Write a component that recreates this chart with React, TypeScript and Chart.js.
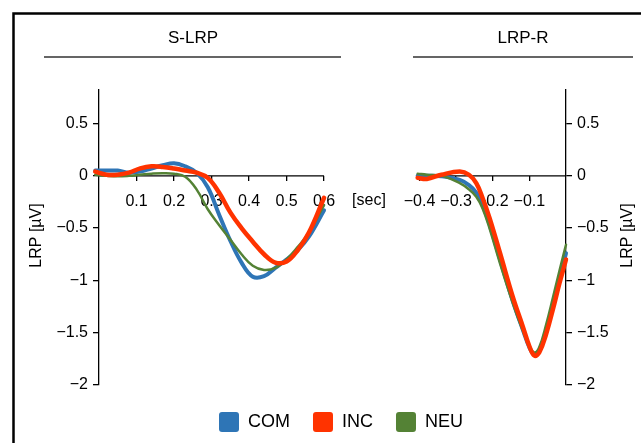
import React, { useEffect, useRef } from 'react';
import { Chart, registerables } from 'chart.js';

Chart.register(...registerables);

const FONT = '"Liberation Sans", Arial, Helvetica, sans-serif';

// ---- series meta ----
const seriesNames = ['COM', 'INC', 'NEU'];
const seriesColors = ['#2E75B6', '#FF3300', '#548235'];
const seriesWidths = [4, 4.5, 2.5];
const seriesOrder = [2, 0, 1];

// ---- text ----
const panelTitles = ['S-LRP', 'LRP-R'];
const yAxisTitle = 'LRP [\u00b5V]';
const xUnitLabel = '[sec]';

// ---- ticks ----
const yTicks = [-2, -1.5, -1, -0.5, 0, 0.5];
const leftXTicks = [0.1, 0.2, 0.3, 0.4, 0.5, 0.6];
const rightXTicks = [-0.4, -0.3, -0.2, -0.1];

// ---- left panel (stimulus-locked) ----
const leftTime = [-0.01, 0.02, 0.05, 0.08, 0.11, 0.14, 0.17, 0.2, 0.23, 0.26, 0.29, 0.32, 0.35, 0.38, 0.41, 0.44, 0.47, 0.5, 0.53, 0.56, 0.6];
const leftCOM = [0.05, 0.05, 0.05, 0.03, 0.04, 0.07, 0.1, 0.12, 0.09, 0.03, -0.11, -0.37, -0.62, -0.83, -0.965, -0.96, -0.88, -0.8, -0.71, -0.58, -0.33];
const leftINC = [0.04, 0.01, 0.01, 0.03, 0.07, 0.09, 0.085, 0.07, 0.05, 0.03, -0.02, -0.16, -0.35, -0.5, -0.63, -0.75, -0.83, -0.82, -0.71, -0.54, -0.21];
const leftNEU = [0.01, 0.0, -0.005, 0.0, 0.01, 0.02, 0.025, 0.02, -0.01, -0.13, -0.32, -0.47, -0.61, -0.75, -0.86, -0.9, -0.88, -0.8, -0.68, -0.54, -0.28];

// ---- right panel (response-locked) ----
const rightTime = [-0.405, -0.38, -0.34, -0.29, -0.265, -0.245, -0.228, -0.209, -0.18, -0.145, -0.118, -0.1, -0.086, -0.073, -0.054, -0.036, -0.018, 0.0, 0.015];
const rightCOM = [0.0, 0.0, -0.005, -0.04, -0.09, -0.16, -0.28, -0.46, -0.8, -1.2, -1.47, -1.64, -1.71, -1.67, -1.48, -1.24, -0.98, -0.74, -0.52];
const rightINC = [-0.02, -0.03, 0.01, 0.04, 0.01, -0.07, -0.21, -0.4, -0.74, -1.16, -1.44, -1.63, -1.72, -1.69, -1.51, -1.28, -1.03, -0.8, -0.6];
const rightNEU = [0.02, 0.01, 0.0, -0.07, -0.13, -0.2, -0.31, -0.5, -0.84, -1.22, -1.48, -1.63, -1.69, -1.64, -1.42, -1.17, -0.91, -0.66, -0.44];

const leftSeries = [leftCOM, leftINC, leftNEU];
const rightSeries = [rightCOM, rightINC, rightNEU];

const fmt = (v: any) => {
  const n = Number(v);
  return n < 0 ? '\u2212' + String(Math.abs(n)) : String(n);
};

const decorPlugin = {
  id: 'decor',
  beforeDatasetsDraw(chart: any) {
    const { ctx, scales } = chart;
    const { x1, x2, y, y2 } = scales;
    ctx.save();
    ctx.strokeStyle = '#000';
    ctx.lineWidth = 1.3;
    const y0 = y.getPixelForValue(0);
    ctx.beginPath();
    ctx.moveTo(x1.getPixelForValue(0), y0);
    ctx.lineTo(x1.getPixelForValue(leftXTicks[leftXTicks.length - 1]), y0);
    ctx.stroke();
    const y0r = y2.getPixelForValue(0);
    ctx.beginPath();
    ctx.moveTo(x2.getPixelForValue(rightXTicks[0]), y0r);
    ctx.lineTo(x2.getPixelForValue(0), y0r);
    ctx.stroke();
    ctx.restore();
  },
  afterDraw(chart: any) {
    const { ctx, chartArea } = chart;
    ctx.save();
    // frame
    ctx.strokeStyle = '#000';
    ctx.lineWidth = 2.5;
    ctx.beginPath();
    ctx.moveTo(13.5, 443);
    ctx.lineTo(13.5, 13.5);
    ctx.lineTo(641, 13.5);
    ctx.stroke();
    // panel titles + underline
    ctx.fillStyle = '#000';
    ctx.textAlign = 'center';
    ctx.textBaseline = 'middle';
    ctx.font = `17px ${FONT}`;
    ctx.fillText(panelTitles[0], 193, 38);
    ctx.fillText(panelTitles[1], 523, 38);
    ctx.strokeStyle = '#333';
    ctx.lineWidth = 1.5;
    ctx.beginPath();
    ctx.moveTo(44, 57);
    ctx.lineTo(341, 57);
    ctx.moveTo(413, 57);
    ctx.lineTo(633, 57);
    ctx.stroke();
    // x unit
    ctx.font = `16px ${FONT}`;
    ctx.fillText(xUnitLabel, 369, 201);
    // y titles
    const cy = (chartArea.top + chartArea.bottom) / 2 - 2;
    [37, 628].forEach((cx) => {
      ctx.save();
      ctx.translate(cx, cy);
      ctx.rotate(-Math.PI / 2);
      ctx.fillText(yAxisTitle, 0, 0);
      ctx.restore();
    });
    ctx.restore();
  },
};

const yScale = (pos: string, width: number) => ({
  type: 'linear',
  axis: 'y',
  position: pos,
  min: -2,
  max: 0.82,
  afterBuildTicks: (s: any) => {
    s.ticks = yTicks.map((v) => ({ value: v }));
  },
  afterFit: (s: any) => {
    s.width = width;
  },
  ticks: { font: { size: 16 }, color: '#000', padding: 5, callback: fmt },
  grid: { drawOnChartArea: false, drawTicks: true, tickLength: 6, color: '#000', lineWidth: 1.3 },
  border: { display: true, color: '#000', width: 1.3 },
});

const xScale = (yId: string, min: number, max: number, tickVals: number[]) => ({
  type: 'linear',
  axis: 'x',
  position: { [yId]: 0 },
  min,
  max,
  afterBuildTicks: (s: any) => {
    s.ticks = tickVals.map((v) => ({ value: v }));
  },
  ticks: { font: { size: 16 }, color: '#000', padding: 11, autoSkip: false, maxRotation: 0, minRotation: 0, callback: fmt },
  grid: { drawOnChartArea: false, drawTicks: true, tickLength: 5, color: '#000', lineWidth: 1.3 },
  border: { display: false },
});

export default function App() {
  const ref = useRef<HTMLCanvasElement>(null);
  useEffect(() => {
    const canvas = ref.current;
    if (!canvas) return;
    Chart.defaults.font.family = FONT;
    Chart.defaults.color = '#000';

    const datasets: any[] = [];
    const makeSet = (name: string, i: number, times: number[], vals: number[], xId: string, yId: string) => ({
      label: name,
      data: times.map((t, j) => ({ x: t, y: vals[j] })),
      xAxisID: xId,
      yAxisID: yId,
      borderColor: seriesColors[i],
      backgroundColor: seriesColors[i],
      borderWidth: seriesWidths[i],
      borderCapStyle: 'round',
      borderJoinStyle: 'round',
      pointRadius: 0,
      clip: false,
      tension: 0.4,
      order: seriesOrder[i],
    });
    seriesNames.forEach((name, i) => datasets.push(makeSet(name, i, leftTime, leftSeries[i], 'x1', 'y')));
    seriesNames.forEach((name, i) => datasets.push(makeSet(name + ' (R)', i, rightTime, rightSeries[i], 'x2', 'y2')));

    const chart = new Chart(canvas, {
      type: 'line',
      data: { datasets },
      options: {
        responsive: false,
        animation: false,
        devicePixelRatio: 1,
        layout: { padding: { left: 56, right: 15, top: 90, bottom: 1 } },
        scales: {
          y: yScale('left', 43),
          y2: yScale('right', 60),
          x1: xScale('y', 0, 1.245, leftXTicks),
          x2: xScale('y2', -1.275, 0, rightXTicks),
        } as any,
        plugins: {
          tooltip: { enabled: false },
          legend: {
            position: 'bottom',
            title: { display: true, text: ' ', font: { size: 3.34 }, padding: 0 },
            labels: {
              boxWidth: 20,
              boxHeight: 20,
              padding: 23,
              font: { size: 18 },
              color: '#000',
              useBorderRadius: true,
              borderRadius: 3,
              generateLabels: () =>
                seriesNames.map((name, i) => ({
                  text: name,
                  fillStyle: seriesColors[i],
                  strokeStyle: seriesColors[i],
                  lineWidth: 0,
                  hidden: false,
                  datasetIndex: i,
                  borderRadius: 3,
                })),
            },
          },
        },
      } as any,
      plugins: [decorPlugin],
    });
    return () => chart.destroy();
  }, []);

  return (
    <div style={{ position: 'absolute', left: 0, top: 0, width: 641, height: 443, background: '#fff', overflow: 'hidden' }}>
      <canvas ref={ref} width={641} height={443} style={{ display: 'block', width: 641, height: 443 }} />
    </div>
  );
}
